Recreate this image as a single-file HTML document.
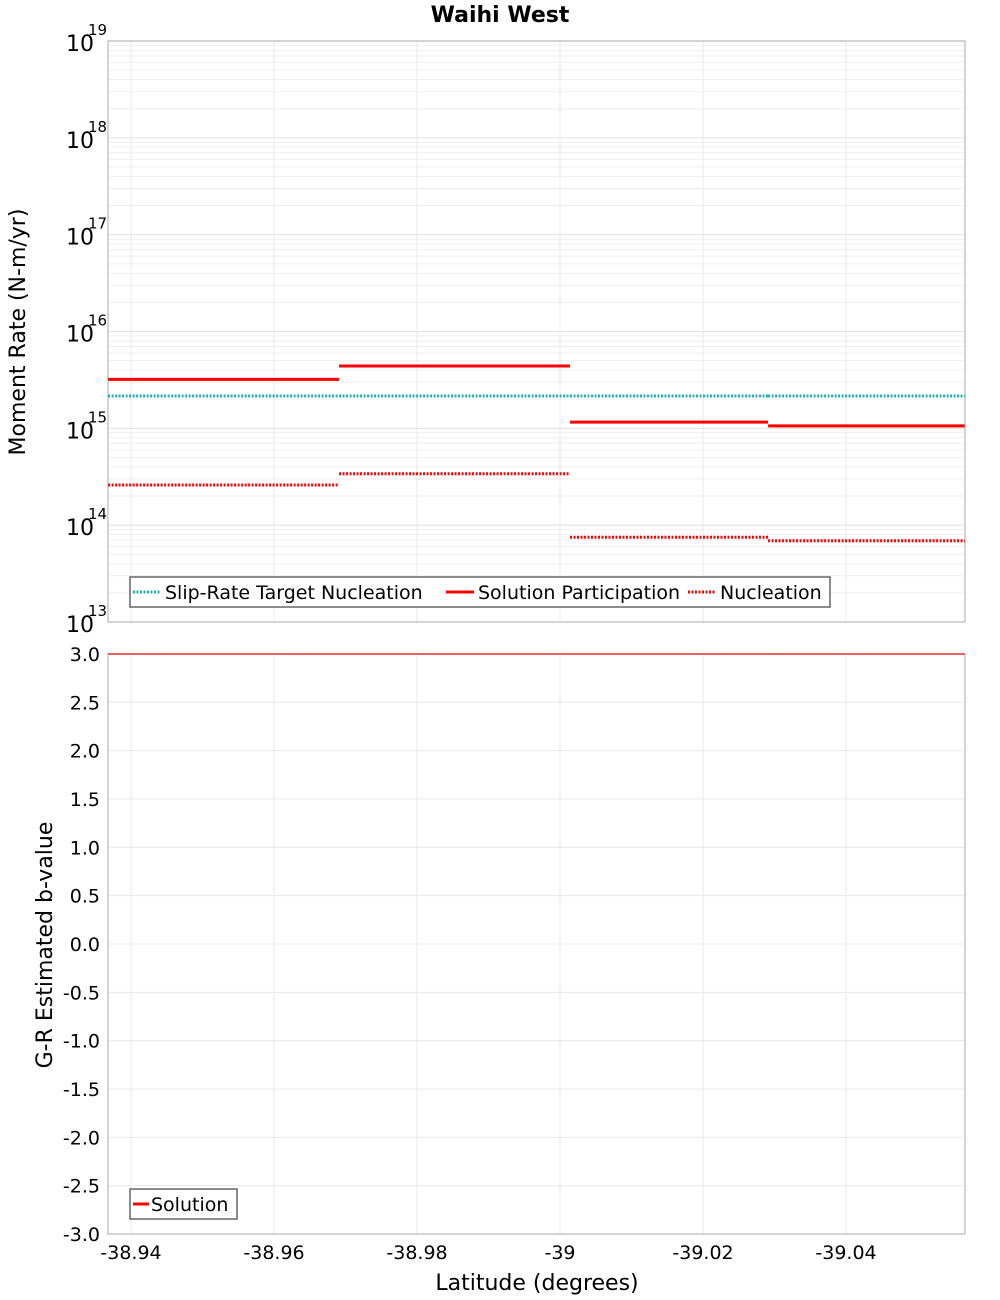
<!DOCTYPE html>
<html><head><meta charset="utf-8"><style>
body{margin:0;background:#fff;}
svg{display:block;font-family:"DejaVu Sans","Liberation Sans",sans-serif;}
</style></head><body>
<svg id="c" width="1000" height="1300">
<text x="500" y="22" text-anchor="middle" font-size="22" font-weight="bold">Waihi West</text>
</svg>
<script>
const boundaries = [-38.9368, -38.9691, -39.0014, -39.0291, -39.0566];
const targetNucleation = [2.16e15, 2.16e15, 2.16e15, 2.16e15];
const solutionParticipation = [3.2e15, 4.4e15, 1.16e15, 1.06e15];
const nucleation = [2.6e14, 3.4e14, 7.5e13, 6.9e13];
const bValues = [3.0, 3.0, 3.0, 3.0];
const xTicks = [-38.94, -38.96, -38.98, -39, -39.02, -39.04];
const xTickLabels = ["-38.94", "-38.96", "-38.98", "-39", "-39.02", "-39.04"];
const logDecades = [13, 14, 15, 16, 17, 18, 19];
const bTicks = [3.0,2.5,2.0,1.5,1.0,0.5,0.0,-0.5,-1.0,-1.5,-2.0,-2.5,-3.0];

const NS="http://www.w3.org/2000/svg", svg=document.getElementById('c');
const L=108,R=965,T1=41,B1=622,T2=654,B2=1234;
const X=v=>131+(v-(-38.94))*(-7150);
const Y1=v=>B1-(Math.log10(v)-13)*(B1-T1)/6;
const Y2=v=>B2-(v+3)*(B2-T2)/6;
function el(t,a,txt){const e=document.createElementNS(NS,t);for(const k in a)e.setAttribute(k,a[k]);if(txt!==undefined)e.textContent=txt;svg.appendChild(e);return e;}

// grids
for(let d=13;d<19;d++)for(let m=1;m<10;m++){const y=Y1(m*Math.pow(10,d));
 const g=el('line',{x1:L,x2:R,y1:y,y2:y,stroke:m==1?'#e0e0e0':'#efefef','stroke-width':1});
 }
for(const v of bTicks){const g=el('line',{x1:L,x2:R,y1:Y2(v),y2:Y2(v),stroke:'#e8e8e8'});
 }
for(const v of xTicks){for(const [a,b] of [[T1,B1],[T2,B2]]){const g=el('line',{x1:X(v),x2:X(v),y1:a,y2:b,stroke:'#e8e8e8'});
 }}

// frames
let f=el('rect',{x:L,y:T1,width:R-L,height:B1-T1,fill:'none',stroke:'#aaa'});

f=el('rect',{x:L,y:T2,width:R-L,height:B2-T2,fill:'none',stroke:'#aaa'});


// y ticks top
for(const d of logDecades){const y=Y1(Math.pow(10,d));
 const t=el('text',{x:66,y:y+10,'font-size':22},'10');
 const s=el('text',{x:88,y:y-6,'font-size':15},String(d));}
for(const v of bTicks){const t=el('text',{x:100,y:Y2(v)+7,'font-size':19,'text-anchor':'end'},v.toFixed(1));
 }
xTicks.forEach((v,i)=>{const t=el('text',{x:X(v),y:1259,'font-size':19,'text-anchor':'middle'},xTickLabels[i]);
 });

let a=el('text',{x:0,y:0,'font-size':22,'text-anchor':'middle',transform:'translate(25,332) rotate(-90)'},'Moment Rate (N-m/yr)');

a=el('text',{x:0,y:0,'font-size':22,'text-anchor':'middle',transform:'translate(52,945) rotate(-90)'},'G-R Estimated b-value');

a=el('text',{x:537,y:1290,'font-size':22,'text-anchor':'middle'},'Latitude (degrees)');


function seg(vals,Yf,col,dash,name){for(let i=0;i<vals.length;i++){
 const l=el('line',{x1:X(boundaries[i]),x2:X(boundaries[i+1]),y1:Yf(vals[i]),y2:Yf(vals[i]),stroke:col,'stroke-width':3,'stroke-dasharray':dash});
 }}
seg(targetNucleation,Y1,'#20b0b0','2 1.5','target-nucleation-segment');
seg(solutionParticipation,Y1,'#f00','none','solution-participation-segment');
seg(nucleation,Y1,'#f00','2 1.5','nucleation-segment');
for(let i=0;i<bValues.length;i++){const l=el('line',{x1:X(boundaries[i]),x2:X(boundaries[i+1]),y1:Y2(bValues[i]),y2:Y2(bValues[i]),stroke:'#e03030','stroke-width':1.5});
 }

// legends
let lg=el('rect',{x:130,y:577,width:700,height:30,fill:'#fff',stroke:'#666','stroke-width':1.5});

const items=[['#20b0b0','2 1.5','Slip-Rate Target Nucleation',133],['#f00','none','Solution Participation',446],['#f00','2 1.5','Nucleation',688]];
for(const [c,d,txt,x] of items){const l=el('line',{x1:x,x2:x+28,y1:592,y2:592,stroke:c,'stroke-width':3,'stroke-dasharray':d});
 
 const t=el('text',{x:x+32,y:599,'font-size':19},txt);}
lg=el('rect',{x:130,y:1189,width:107,height:30,fill:'#fff',stroke:'#666','stroke-width':1.5});

let l2=el('line',{x1:133,x2:149,y1:1204,y2:1204,stroke:'#f00','stroke-width':3});

let t2=el('text',{x:151,y:1211,'font-size':19},'Solution');

</script>
</body></html>
